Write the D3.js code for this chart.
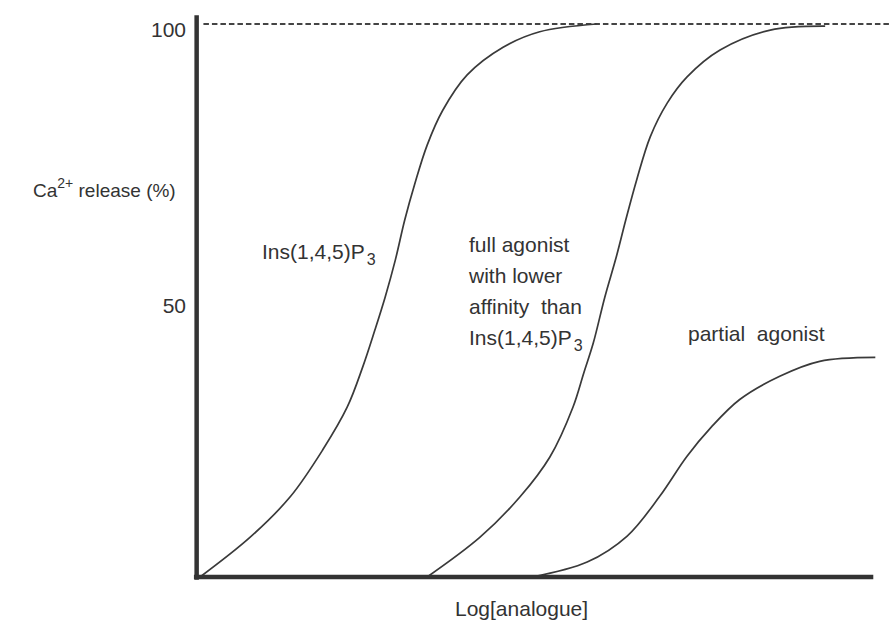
<!DOCTYPE html>
<html>
<head>
<meta charset="utf-8">
<script src="https://cdn.jsdelivr.net/npm/d3@7"></script>
<style>
  html, body { margin: 0; padding: 0; background: #fff; }
  svg { display: block; }
  text { font-family: "Liberation Sans", Arial, Helvetica, sans-serif; fill: #333; }
</style>
</head>
<body>
<svg id="chart" width="891" height="622"></svg>
<script>
// ---- Data ----
// x = log[analogue] position on an arbitrary 0–100 scale, y = Ca2+ release (%)
const ins145P3_x = [0.3, 7.7, 13.6, 18.4, 22.0, 24.3, 26.1, 27.6, 29.1, 30.5, 32.0, 33.8, 36.1, 39.7, 45.0, 50.4, 58.8];
const ins145P3_y = [0, 7.2, 14.5, 23.0, 30.7, 38.0, 44.7, 50.6, 57.3, 64.6, 71.2, 78.1, 84.4, 90.8, 95.8, 98.6, 100];

const fullAgonist_x = [33.8, 41.6, 47.5, 51.9, 55.3, 56.9, 58.3, 60.0, 61.7, 63.1, 64.7, 66.7, 69.2, 72.1, 77.0, 84.4, 92.5];
const fullAgonist_y = [0, 7.2, 14.5, 21.7, 30.7, 36.9, 42.3, 50.6, 57.9, 64.6, 71.8, 79.6, 85.7, 90.4, 95.3, 98.9, 99.6];

const partialAgonist_x = [49.3, 57.4, 63.3, 68.1, 72.1, 75.7, 79.9, 85.8, 91.7, 99.9];
const partialAgonist_y = [0, 2.7, 7.4, 14.6, 21.8, 27.1, 32.1, 36.3, 39.0, 39.7];

const yTickValues = [50, 100];
const yTickLabels = ["50", "100"];
const maxLevel = 100;

// ---- Layout ----
const svg = d3.select("#chart");
const x = d3.scaleLinear().domain([0, 100]).range([198, 876]);
const y = d3.scaleLinear().domain([0, 100]).range([577, 24]);

const ink = "#333";
const FS = "21px";

// dashed 100% line
svg.append("line")
  .attr("x1", x(0.8)).attr("x2", 891)
  .attr("y1", y(maxLevel)).attr("y2", y(maxLevel))
  .attr("stroke", "#444").attr("stroke-width", 2)
  .attr("stroke-dasharray", "5.5,3");

// curves
const line = d3.line().x(d => x(d[0])).y(d => y(d[1])).curve(d3.curveCatmullRom.alpha(0.5));
const series = [
  d3.zip(ins145P3_x, ins145P3_y),
  d3.zip(fullAgonist_x, fullAgonist_y),
  d3.zip(partialAgonist_x, partialAgonist_y)
];
svg.selectAll("path.curve").data(series).enter().append("path")
  .attr("class", "curve")
  .attr("d", line)
  .attr("fill", "none")
  .attr("stroke", "#3a3a3a")
  .attr("stroke-width", 1.7);

// axes lines (thick)
svg.append("line")
  .attr("x1", x(-0.2)).attr("x2", x(-0.2))
  .attr("y1", y(-0.5)).attr("y2", y(101.6))
  .attr("stroke", ink).attr("stroke-width", 4.5);
svg.append("line")
  .attr("x1", x(-0.6)).attr("x2", x(99.6))
  .attr("y1", y(0)).attr("y2", y(0))
  .attr("stroke", ink).attr("stroke-width", 4.5);

// y tick labels via axis generator
const yAxis = d3.axisLeft(y).tickValues(yTickValues).tickSize(0).tickPadding(0)
  .tickFormat((d, i) => yTickLabels[i]);
const gy = svg.append("g").attr("transform", `translate(${x(0) - 12},0)`).call(yAxis);
gy.select(".domain").remove();
gy.selectAll("text")
  .attr("dy", null).attr("y", 12)
  .style("font-size", FS)
  .style("font-family", '"Liberation Sans", Arial, sans-serif')
  .attr("fill", ink);

// y-axis title (left of the axis)
const yt = svg.append("text").attr("x", 33).attr("y", 197).style("font-size", "19px");
yt.append("tspan").text("Ca");
yt.append("tspan").attr("dy", -9).style("font-size", "14px").text("2+");
yt.append("tspan").attr("dy", 9).text(" release (%)");

// x-axis title
svg.append("text").attr("x", 455).attr("y", 616).style("font-size", FS).text("Log[analogue]");

// curve labels
function insLabel(xp, yp) {
  const t = svg.append("text").attr("x", xp).attr("y", yp).style("font-size", FS);
  t.append("tspan").text("Ins(1,4,5)P");
  t.append("tspan").attr("dy", 6).attr("dx", 2).style("font-size", "16px").text("3");
}
insLabel(262, 259);

const fullLines = ["full agonist", "with lower", "affinity  than"];
fullLines.forEach((s, i) => {
  svg.append("text").attr("x", 469).attr("y", 252 + i * 31).style("font-size", FS)
    .style("white-space", "pre").attr("xml:space", "preserve").text(s);
});
insLabel(469, 345);

svg.append("text").attr("x", 688).attr("y", 341).style("font-size", FS)
  .attr("xml:space", "preserve").style("white-space", "pre").text("partial  agonist");
</script>
</body>
</html>
